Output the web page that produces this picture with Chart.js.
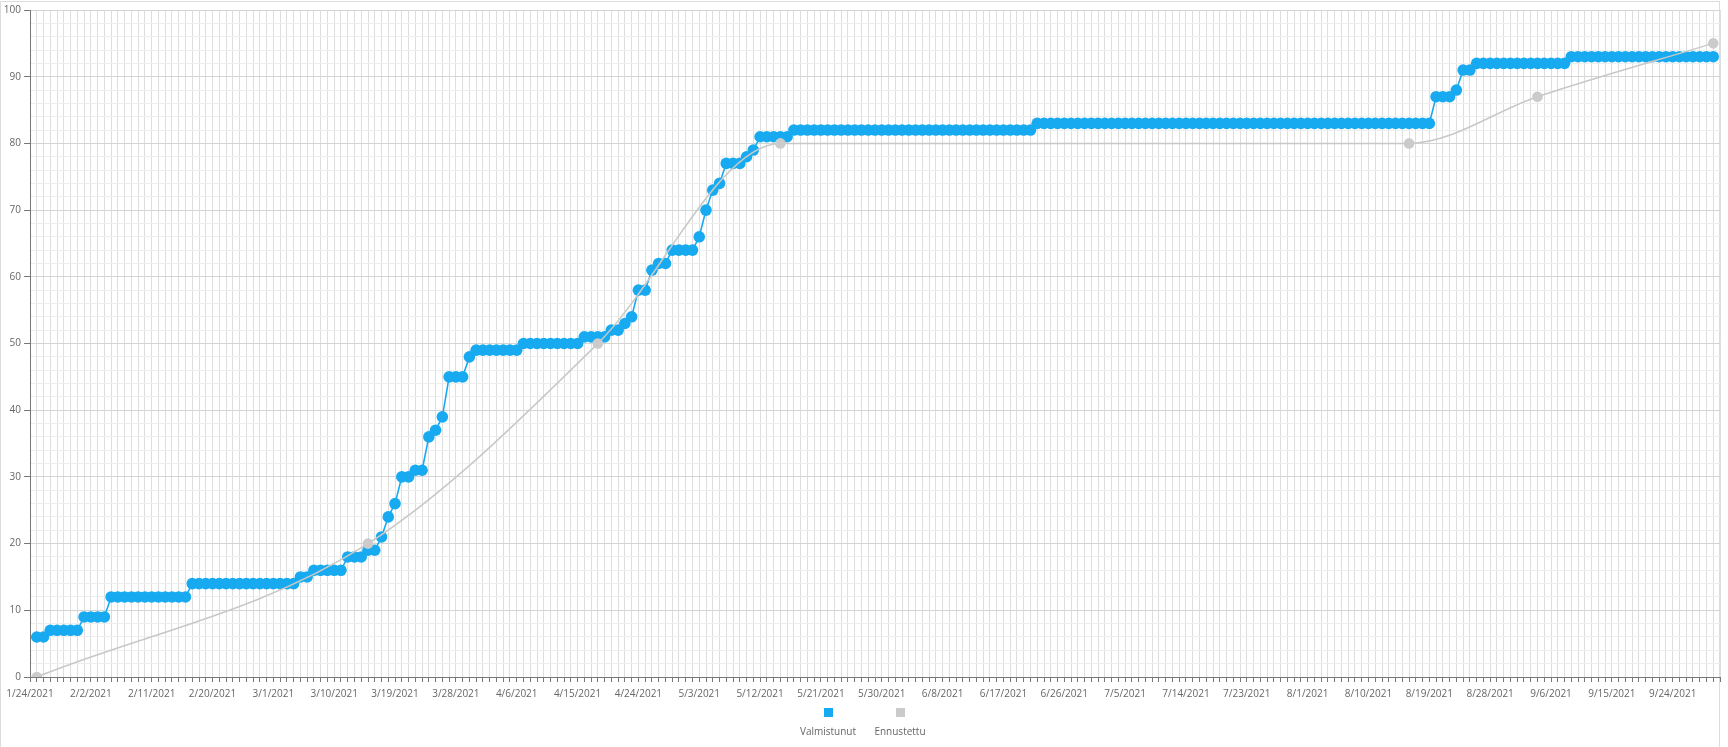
<!DOCTYPE html>
<html>
<head>
<meta charset="utf-8">
<script src="https://cdn.jsdelivr.net/npm/chart.js@4/dist/chart.umd.min.js"></script>
<style>
  html, body { margin: 0; padding: 0; background: #fff; }
  #wrap { position: relative; width: 1728px; height: 747px; overflow: hidden; }
  #frame { position: absolute; left: 0; top: 1px; width: 1720px; height: 800px; border: 1px solid #dcdcdc; box-sizing: border-box; }
  #c { position: absolute; left: 0; top: 0; }
  .lg { position: absolute; width: 90px; text-align: center; font-family: 'Open Sans', sans-serif; font-size: 10px; color: #666; }
  .lg .box { width: 9px; height: 9px; margin: 0 auto; }
  .lg .txt { margin-top: 8px; line-height: 12px; }
</style>
</head>
<body>
<div id="wrap">
  <div id="frame"></div>
  <canvas id="c" width="1728" height="747"></canvas>
  <div class="lg" style="left:783px; top:708px;"><div class="box" style="background:#17aaf0"></div><div class="txt">Valmistunut</div></div>
  <div class="lg" style="left:855px; top:708px;"><div class="box" style="background:#cbcbcb"></div><div class="txt">Ennustettu</div></div>
</div>
<script>
// Category axis: one category per day, 1/23/2021 .. 9/30/2021
const startDate = [2021, 0, 23];
const dayCount = 251;
const categories = [];
for (let i = 0; i < dayCount; i++) {
  const d = new Date(startDate[0], startDate[1], startDate[2] + i);
  categories.push((d.getMonth() + 1) + '/' + d.getDate() + '/' + d.getFullYear());
}

// Valmistunut (completed), daily values 1/24/2021 .. 9/29/2021
const completed = [
  6,6,7,7,7,7,7,9,9,9,
  9,12,12,12,12,12,12,12,12,12,
  12,12,12,14,14,14,14,14,14,14,
  14,14,14,14,14,14,14,14,14,15,
  15,16,16,16,16,16,18,18,18,19,
  19,21,24,26,30,30,31,31,36,37,
  39,45,45,45,48,49,49,49,49,49,
  49,49,50,50,50,50,50,50,50,50,
  50,51,51,51,51,52,52,53,54,58,
  58,61,62,62,64,64,64,64,66,70,
  73,74,77,77,77,78,79,81,81,81,
  81,81,82,82,82,82,82,82,82,82,
  82,82,82,82,82,82,82,82,82,82,
  82,82,82,82,82,82,82,82,82,82,
  82,82,82,82,82,82,82,82,83,83,
  83,83,83,83,83,83,83,83,83,83,
  83,83,83,83,83,83,83,83,83,83,
  83,83,83,83,83,83,83,83,83,83,
  83,83,83,83,83,83,83,83,83,83,
  83,83,83,83,83,83,83,83,83,83,
  83,83,83,83,83,83,83,87,87,87,
  88,91,91,92,92,92,92,92,92,92,
  92,92,92,92,92,92,92,93,93,93,
  93,93,93,93,93,93,93,93,93,93,
  93,93,93,93,93,93,93,93,93
];
const completedStart = '1/24/2021';

// Ennustettu (forecast) points
const forecastDates = ['1/24/2021','3/14/2021','4/17/2021','5/14/2021','8/15/2021','9/3/2021','9/29/2021'];
const forecastValues = [0, 20, 50, 80, 80, 87, 95];

// y tick labels
const yMajorTicks = [0,10,20,30,40,50,60,70,80,90,100];

const firstIdx = categories.indexOf(completedStart);
const completedData = categories.map((c, i) => {
  const k = i - firstIdx;
  return (k >= 0 && k < completed.length) ? completed[k] : null;
});
const forecastData = forecastDates.map((d, i) => ({ x: d, y: forecastValues[i] }));

const BLUE = '#17aaf0';
const GRAY = '#cbcbcb';

Chart.defaults.font.family = "'Open Sans', sans-serif";
Chart.defaults.font.size = 10;
Chart.defaults.color = '#666';

new Chart(document.getElementById('c'), {
  type: 'line',
  data: {
    labels: categories,
    datasets: [
      {
        label: 'Valmistunut',
        data: completedData,
        borderColor: BLUE,
        backgroundColor: BLUE,
        pointBackgroundColor: BLUE,
        pointBorderWidth: 0,
        pointRadius: 5.8,
        borderWidth: 1.6,
        tension: 0,
        order: 1
      },
      {
        label: 'Ennustettu',
        data: forecastData,
        borderColor: '#c8c8c8',
        backgroundColor: GRAY,
        pointBackgroundColor: GRAY,
        pointBorderWidth: 0,
        pointRadius: 5.3,
        borderWidth: 1.5,
        cubicInterpolationMode: 'monotone',
        spanGaps: true,
        order: 0
      }
    ]
  },
  options: {
    responsive: false,
    animation: false,
    devicePixelRatio: 1,
    layout: { padding: { left: 0, right: 8, top: 10, bottom: 0 } },
    plugins: { legend: { display: false }, tooltip: { enabled: false } },
    scales: {
      x: {
        type: 'category',
        offset: false,
        afterFit: (s) => { s.height = 70; },
        border: { color: '#777', width: 1 },
        grid: { color: '#dedede', lineWidth: 1, tickColor: '#777', tickLength: 5 },
        ticks: {
          autoSkip: false,
          maxRotation: 0,
          minRotation: 0,
          padding: 6,
          labelOffset: -6.76,
          color: '#666',
          callback: function (val, index) {
            return ((index - firstIdx) % 9 === 0 && index >= firstIdx) ? categories[index] : '';
          }
        }
      },
      y: {
        min: 0,
        max: 100,
        afterFit: (s) => { s.width = 30; },
        border: { color: '#777', width: 1 },
        grid: {
          lineWidth: 1,
          tickLength: 6,
          color: (ctx) => (yMajorTicks.includes(ctx.tick && ctx.tick.value) ? '#d4d4d4' : '#eeeeee'),
          tickColor: (ctx) => (yMajorTicks.includes(ctx.tick && ctx.tick.value) ? '#777' : 'rgba(0,0,0,0)')
        },
        ticks: {
          stepSize: 2,
          autoSkip: false,
          padding: 3,
          color: '#666',
          callback: (v) => (yMajorTicks.includes(v) ? String(v) : '')
        }
      }
    }
  }
});
</script>
</body>
</html>
